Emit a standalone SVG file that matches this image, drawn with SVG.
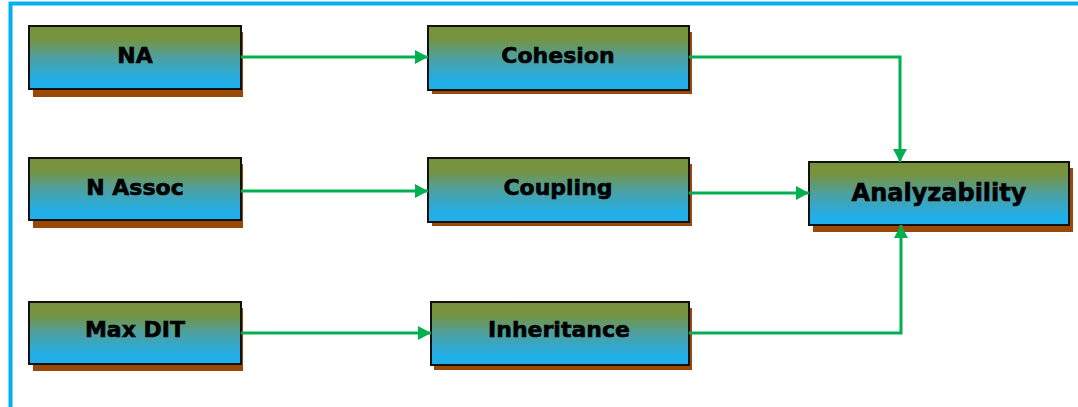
<svg xmlns="http://www.w3.org/2000/svg" width="1078" height="407" viewBox="0 0 1078 407">
<defs>
<linearGradient id="g" x1="0" y1="0" x2="0" y2="1">
<stop offset="0" stop-color="#77923b"/>
<stop offset="0.2" stop-color="#76933f"/>
<stop offset="0.5" stop-color="#4ea0a0"/>
<stop offset="0.85" stop-color="#22aee6"/>
<stop offset="1" stop-color="#1eb0ec"/>
</linearGradient>
<marker id="ah" viewBox="0 0 13 14" refX="13" refY="7" markerWidth="13" markerHeight="14" markerUnits="userSpaceOnUse" orient="auto">
<path d="M0,0 L13,7 L0,14 Z" fill="#00b050"/>
</marker>
<style>
.sh{fill:#984807}
.bx{fill:url(#g);stroke:#111;stroke-width:2}
.t{font-family:"DejaVu Sans",Verdana,sans-serif;font-weight:bold;font-size:22px;fill:#000;stroke:#000;stroke-width:0.6;text-anchor:middle;dominant-baseline:central}
.c{fill:none;stroke:#00b050;stroke-width:3;marker-end:url(#ah)}
</style>
</defs>
<rect x="0" y="0" width="1078" height="407" fill="#fff"/>
<path d="M10.5,407 V3.5 H1078" fill="none" stroke="#00b0f0" stroke-width="4"/>
<g id="na"><rect class="sh" x="33" y="32" width="210" height="65"/><rect class="bx" x="29" y="26" width="212" height="63"/><text class="t" x="135" y="55">NA</text></g>
<g id="nassoc"><rect class="sh" x="33" y="164" width="210" height="64"/><rect class="bx" x="29" y="158" width="212" height="62"/><text class="t" x="135" y="187">N Assoc</text></g>
<g id="maxdit"><rect class="sh" x="33" y="308" width="210" height="63"/><rect class="bx" x="29" y="302" width="212" height="62"/><text class="t" x="135" y="329">Max DIT</text></g>
<g id="cohesion"><rect class="sh" x="432" y="32" width="260" height="62"/><rect class="bx" x="428" y="26" width="261" height="64"/><text class="t" x="558" y="55">Cohesion</text></g>
<g id="coupling"><rect class="sh" x="432" y="164" width="260" height="62"/><rect class="bx" x="428" y="158" width="261" height="64"/><text class="t" x="558" y="187">Coupling</text></g>
<g id="inheritance"><rect class="sh" x="434" y="308" width="258" height="62"/><rect class="bx" x="431" y="302" width="258" height="63"/><text class="t" x="559" y="329">Inheritance</text></g>
<g id="analyzability"><rect class="sh" x="813" y="168" width="260" height="64"/><rect class="bx" x="809" y="162" width="260" height="63"/><text class="t" x="939" y="193" style="font-size:24px">Analyzability</text></g>
<g id="connectors">
<path class="c" d="M241,57 H428"/>
<path class="c" d="M241,191 H428"/>
<path class="c" d="M241,333 H431"/>
<path class="c" d="M689,57 H900 V162"/>
<path class="c" d="M689,193 H809"/>
<path class="c" d="M689,333 H901 V225"/>
</g>
</svg>
